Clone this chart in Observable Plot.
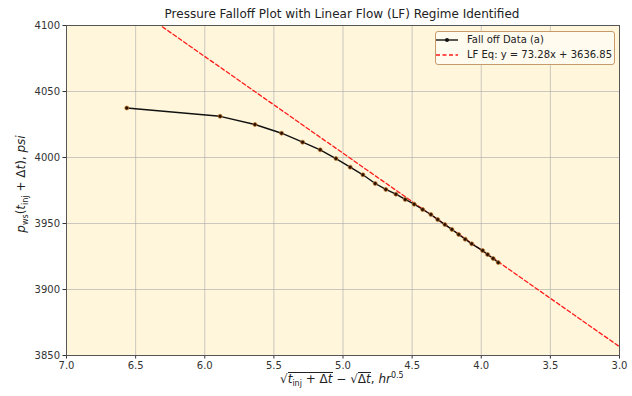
<!DOCTYPE html>
<html>
<head>
<meta charset="utf-8">
<script src="https://cdn.jsdelivr.net/npm/d3@7"></script>
<script src="https://cdn.jsdelivr.net/npm/@observablehq/plot@0.6"></script>
<style>
  html, body { margin: 0; padding: 0; background: #ffffff; }
  #wrap { position: relative; width: 632px; height: 396px; font-family: "DejaVu Sans", sans-serif; color: #222; }
  #wrap svg { position: absolute; left: 0; top: 0; }
  .abs { position: absolute; white-space: nowrap; }
  #title { left: 0; width: 684px; text-align: center; top: 7px; font-size: 12px; color: #222; }
  #legend { left: 435px; top: 31px; width: 178px; height: 32px; border: 1px solid #c79a6a; border-radius: 3px; background: #fffbee; font-size: 10px; }
  .lrow { position: absolute; left: 0; height: 14px; line-height: 14px; }
  .sw { position: absolute; left: 3px; width: 22px; top: 7px; }
  .lt { position: absolute; left: 31px; top: 0; }
  #xlab { left: 280px; top: 371px; font-size: 12px; }
  #ylab { left: 22px; top: 184px; font-size: 12px; transform: translate(-50%, -50%) rotate(-90deg); }
  .rad { display: inline-block; border-top: 1px solid #222; padding-top: 0px; line-height: 13px; }
  sub, sup { font-size: 8px; font-style: normal; }
</style>
</head>
<body>
<div id="wrap"></div>
<script>
// ---- data ----
const xData = [6.564, 5.889, 5.637, 5.444, 5.292, 5.165, 5.051, 4.948, 4.856, 4.767,
               4.690, 4.617, 4.550, 4.485, 4.424, 4.364, 4.315, 4.263, 4.212, 4.163,
               4.116, 4.069, 3.990, 3.954, 3.914, 3.877];
const yData = [4037.5, 4031.2, 4025.0, 4018.4, 4011.6, 4005.8, 3999.2, 3992.7, 3986.9, 3980.3,
               3975.8, 3972.2, 3968.2, 3964.6, 3960.6, 3956.8, 3953.0, 3949.2, 3945.5, 3941.7,
               3938.1, 3934.6, 3929.5, 3926.5, 3923.5, 3920.4];
const fitSlope = 73.28;
const fitIntercept = 3636.85;
const xTicks = [7.0, 6.5, 6.0, 5.5, 5.0, 4.5, 4.0, 3.5, 3.0];
const yTicks = [3850, 3900, 3950, 4000, 4050, 4100];
const xDomain = [7, 3];
const yDomain = [3850, 4100];

const pts = xData.map((x, i) => ({x, y: yData[i]}));
const fit = xDomain.map(x => ({x, y: fitSlope * x + fitIntercept}));

const chart = Plot.plot({
  width: 632,
  height: 396,
  marginLeft: 66,
  marginRight: 13,
  marginTop: 25,
  marginBottom: 41,
  style: { fontFamily: "DejaVu Sans, sans-serif", fontSize: "10px", background: "transparent", color: "#333" },
  x: { domain: xDomain, ticks: xTicks, tickFormat: d3.format(".1f") },
  y: { domain: yDomain, ticks: yTicks, tickFormat: d3.format("d") },
  marks: [
    Plot.frame({ fill: "#fff6dc", stroke: null }),
    Plot.gridX(xTicks, { stroke: "#a8a8a8", strokeOpacity: 0.75, strokeWidth: 0.8 }),
    Plot.gridY(yTicks, { stroke: "#a8a8a8", strokeOpacity: 0.75, strokeWidth: 0.8 }),
    Plot.axisX(xTicks, { tickSize: 3.5, tickPadding: 2.5, label: null, fontSize: 10, fill: "#333", tickFormat: d3.format(".1f") }),
    Plot.axisY(yTicks, { tickSize: 3.5, tickPadding: 3, label: null, fontSize: 10, fill: "#333", tickFormat: d3.format("d") }),
    Plot.line(fit, { x: "x", y: "y", stroke: "#ff1a1a", strokeWidth: 1.3, strokeDasharray: "4,2.5", clip: true }),
    Plot.line(pts, { x: "x", y: "y", stroke: "#111", strokeWidth: 1.4 }),
    Plot.dot(pts, { x: "x", y: "y", r: 2, fill: "#2a1200", stroke: "#c47a2c", strokeWidth: 0.7 }),
    Plot.frame({ stroke: "#555", strokeWidth: 1 })
  ]
});

const wrap = document.getElementById("wrap");
wrap.appendChild(chart);

wrap.insertAdjacentHTML("beforeend", `
  <div id="title" class="abs">Pressure Falloff Plot with Linear Flow (LF) Regime Identified</div>
  <div id="legend" class="abs">
    <div class="lrow" style="top:1px;width:100%">
      <svg class="sw" width="22" height="6" style="top:4px"><line x1="0" y1="3" x2="22" y2="3" stroke="#111" stroke-width="1.4"/><circle cx="11" cy="3" r="2" fill="#111"/></svg>
      <span class="lt">Fall off Data (a)</span>
    </div>
    <div class="lrow" style="top:16px;width:100%">
      <svg class="sw" width="22" height="6" style="top:4px"><line x1="0" y1="3" x2="22" y2="3" stroke="#ff1a1a" stroke-width="1.4" stroke-dasharray="4,2.5"/></svg>
      <span class="lt">LF Eq: y = 73.28x + 3636.85</span>
    </div>
  </div>
  <div id="xlab" class="abs">√<span class="rad"><i>t</i><sub>inj</sub> + Δ<i>t</i></span> − √<span class="rad">Δ<i>t</i></span>, <i>hr</i><sup>0.5</sup></div>
  <div id="ylab" class="abs"><i>p</i><sub>ws</sub>(<i>t</i><sub>inj</sub> + Δ<i>t</i>), <i>psi</i></div>
`);
</script>
</body>
</html>
